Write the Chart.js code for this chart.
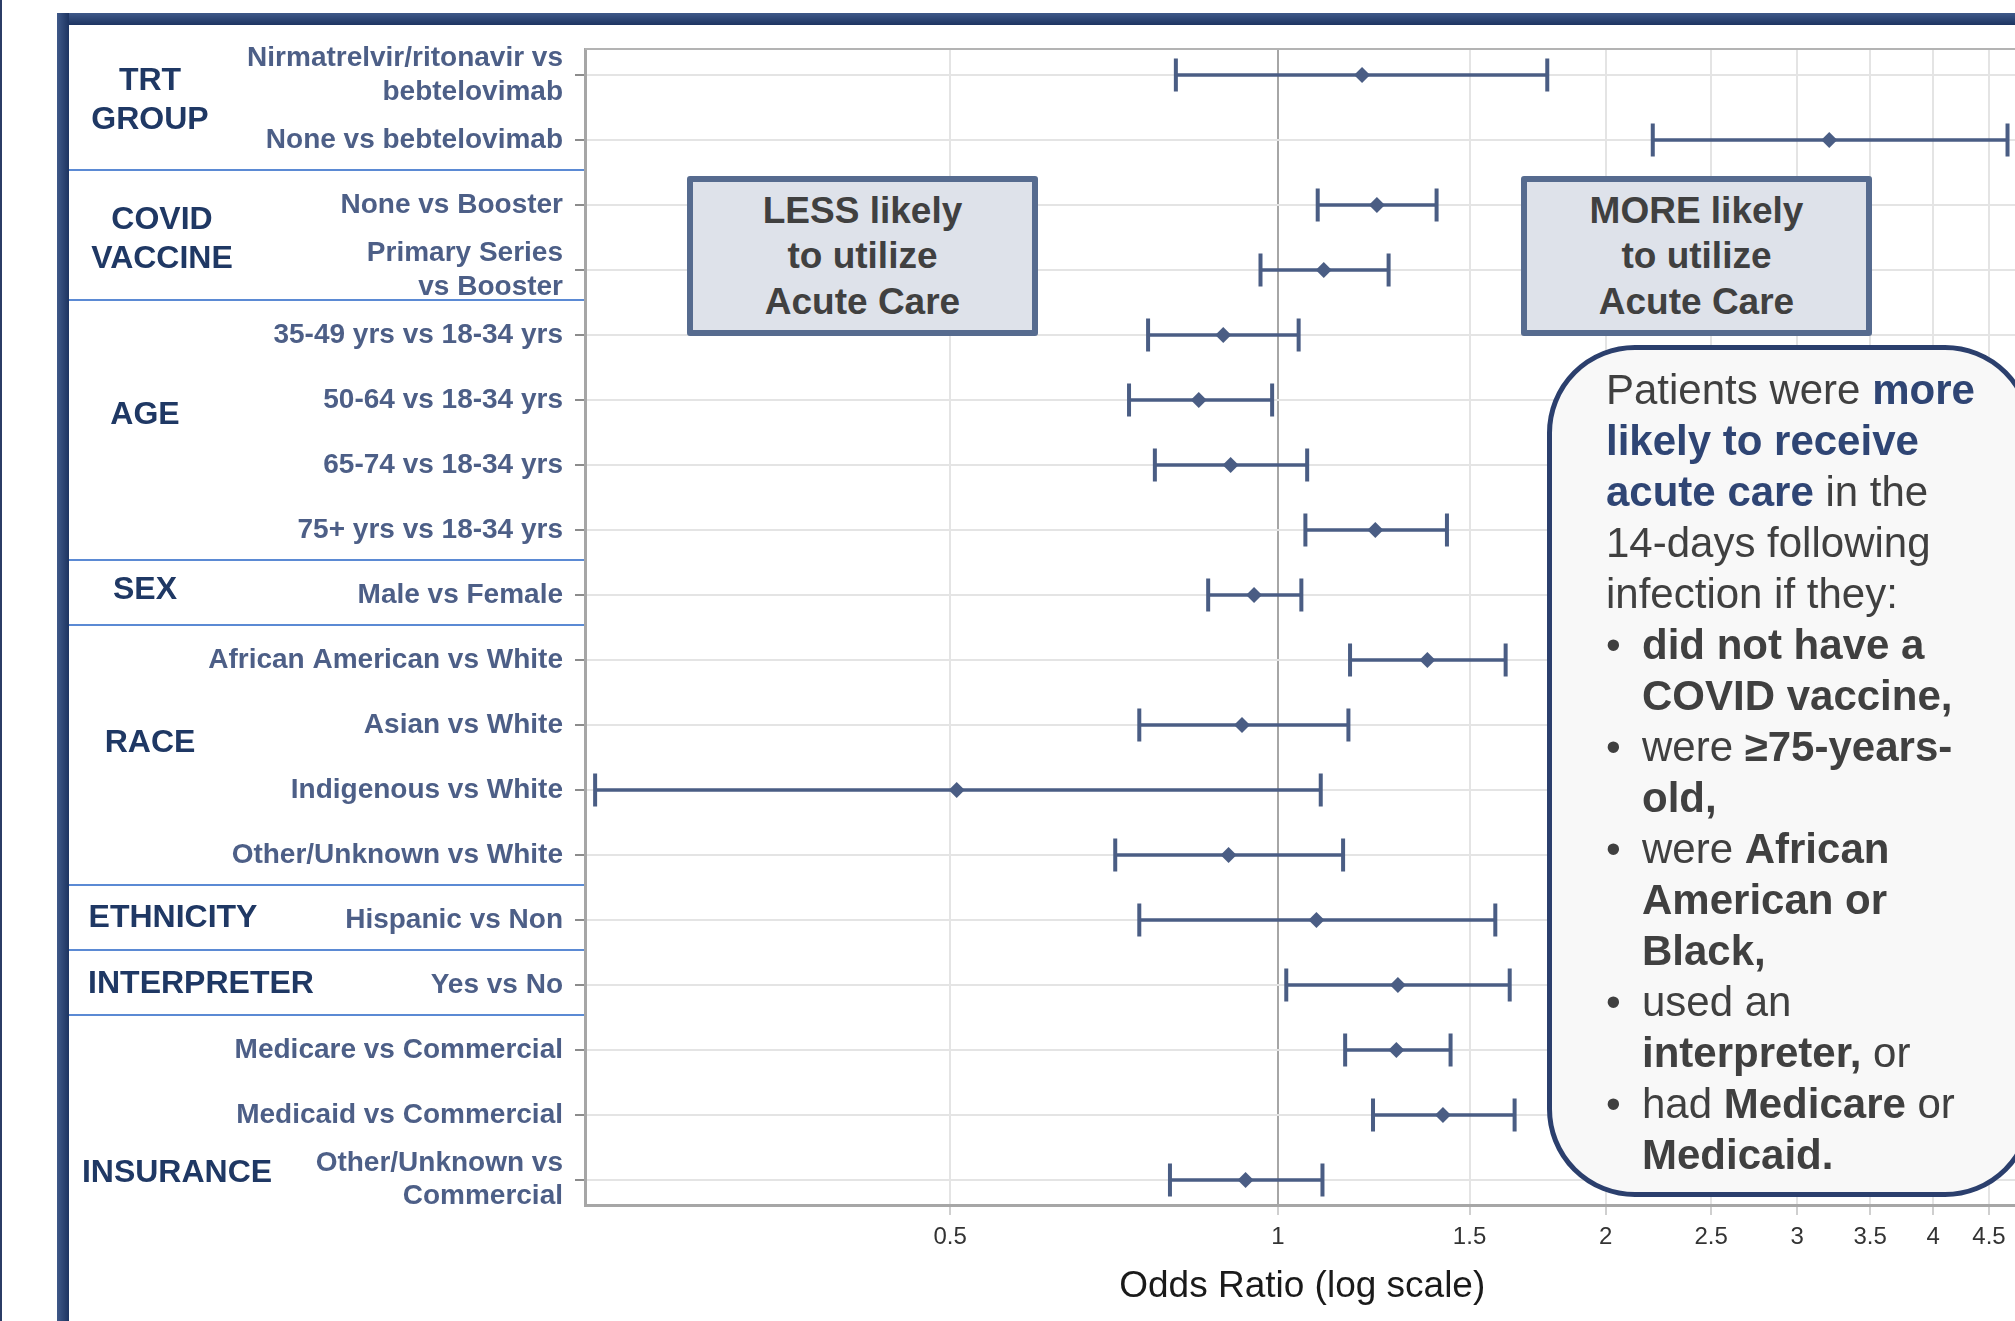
<!DOCTYPE html>
<html>
<head>
<meta charset="utf-8">
<script src="https://cdn.jsdelivr.net/npm/chart.js@4.4.1/dist/chart.umd.min.js"></script>
<style>
  body { margin: 0; width: 2015px; height: 1321px; overflow: hidden; background: #fff; position: relative; font-family: "Liberation Sans", Arial, sans-serif; }
  #chart { position: absolute; left: 0; top: 0; }
  #edge { position: absolute; left: 0; top: 0; width: 2px; height: 1321px; background: #2b3c66; }
  #frameTop { position: absolute; left: 57px; top: 13px; width: 1958px; height: 12px; background: linear-gradient(#3f5989, #1d3461); }
  #frameLeft { position: absolute; left: 57px; top: 13px; width: 12px; height: 1308px; background: linear-gradient(90deg, #3f5989, #1d3461); }
  .box { position: absolute; top: 176px; width: 351px; height: 160px; box-sizing: border-box; border: 6px solid #566b8f; border-radius: 3px; background: #dee2ea; display: flex; align-items: center; justify-content: center; text-align: center; font: bold 37px/45.5px "Liberation Sans", Arial, sans-serif; color: #404040; }
  #less { left: 687px; }
  #more { left: 1521px; }
  #callout { position: absolute; left: 1547px; top: 345px; width: 486px; height: 852px; box-sizing: border-box; border: 5px solid #2b3f6d; border-radius: 88px; background: #f8f8f8; padding: 14px 0 0 54px; font: 42px/51px "Liberation Sans", Arial, sans-serif; color: #404040; white-space: nowrap; }
  #callout .hl { color: #2f4574; }
  #callout .bl { position: relative; padding-left: 36px; }
  #callout .dot { position: absolute; left: 0; top: 0; }
</style>
</head>
<body>
<canvas id="chart" width="2040" height="1321"></canvas>
<div id="edge"></div>
<div id="frameTop"></div>
<div id="frameLeft"></div>
<div class="box" id="less">LESS likely<br>to utilize<br>Acute Care</div>
<div class="box" id="more">MORE likely<br>to utilize<br>Acute Care</div>
<div id="callout">
  Patients were <b class="hl">more</b><br>
  <b class="hl">likely to receive</b><br>
  <b class="hl">acute care</b> in the<br>
  14-days following<br>
  infection if they:
  <div class="bl"><span class="dot">•</span><b>did not have a<br>COVID vaccine,</b></div>
  <div class="bl"><span class="dot">•</span>were <b>≥75-years-<br>old,</b></div>
  <div class="bl"><span class="dot">•</span>were <b>African<br>American or<br>Black,</b></div>
  <div class="bl"><span class="dot">•</span>used an<br><b>interpreter,</b> or</div>
  <div class="bl"><span class="dot">•</span>had <b>Medicare</b> or<br><b>Medicaid.</b></div>
</div>
<script>
const rowLabels = [
  ["Nirmatrelvir/ritonavir vs", "bebtelovimab"],
  "None vs bebtelovimab",
  "None vs Booster",
  ["Primary Series", "vs Booster"],
  "35-49 yrs vs 18-34 yrs",
  "50-64 vs 18-34 yrs",
  "65-74 vs 18-34 yrs",
  "75+ yrs vs 18-34 yrs",
  "Male vs Female",
  "African American vs White",
  "Asian vs White",
  "Indigenous vs White",
  "Other/Unknown vs White",
  "Hispanic vs Non",
  "Yes vs No",
  "Medicare vs Commercial",
  "Medicaid vs Commercial",
  ["Other/Unknown vs", "Commercial"],
];
const oddsRatio = [1.195, 3.21, 1.233, 1.102, 0.891, 0.846, 0.905, 1.229, 0.951, 1.372, 0.927, 0.507, 0.901, 1.085, 1.289, 1.285, 1.418, 0.934];
const ciLow = [0.806, 2.21, 1.088, 0.964, 0.76, 0.73, 0.771, 1.06, 0.863, 1.165, 0.746, 0.236, 0.709, 0.746, 1.018, 1.153, 1.223, 0.796];
const ciHigh = [1.768, 4.68, 1.399, 1.264, 1.045, 0.988, 1.064, 1.43, 1.051, 1.619, 1.161, 1.095, 1.148, 1.584, 1.633, 1.441, 1.65, 1.099];
const xTicks = [0.5, 1, 1.5, 2, 2.5, 3, 3.5, 4, 4.5];
const groupNames = [["TRT", "GROUP"], ["COVID", "VACCINE"], ["AGE"], ["SEX"], ["RACE"], ["ETHNICITY"], ["INTERPRETER"], ["INSURANCE"]];
const groupLastRow = [1, 3, 7, 8, 12, 13, 14, 17];

// where the group names sit in the left panel (x in px, y in row units)
const groupLabelX = [150, 162, 145, 145, 150, 173, 201, 177];
const groupLabelRow = [0.39, 2.54, 5.23, 7.92, 10.28, 12.97, 13.98, 16.89];

const barColor = "#4a5d84";
const panelLeft = 69;

const ciSets = rowLabels.map((_, i) => ({
  data: [{ x: ciLow[i], y: i }, { x: ciHigh[i], y: i }],
  showLine: true,
  borderColor: barColor,
  borderWidth: 3.5,
  pointStyle: "line",
  rotation: 90,
  pointRadius: 16.5,
  pointBorderWidth: 4,
  pointBorderColor: barColor,
  order: 2,
}));

const panel = {
  id: "panel",
  afterDraw(chart) {
    const { ctx, chartArea, scales } = chart;
    const y = scales.y;
    ctx.save();
    ctx.strokeStyle = "#b3b3b3";
    ctx.lineWidth = 2;
    ctx.beginPath();
    ctx.moveTo(chartArea.left, chartArea.top);
    ctx.lineTo(chartArea.right, chartArea.top);
    ctx.stroke();

    ctx.strokeStyle = "#5b8ad4";
    ctx.lineWidth = 2;
    groupLastRow.slice(0, -1).forEach((r) => {
      const py = Math.round(y.getPixelForValue(r + 0.46));
      ctx.beginPath();
      ctx.moveTo(panelLeft, py);
      ctx.lineTo(chartArea.left - 1, py);
      ctx.stroke();
    });

    ctx.fillStyle = "#1f3864";
    ctx.font = 'bold 32px "Liberation Sans", Arial, sans-serif';
    ctx.textAlign = "center";
    ctx.textBaseline = "middle";
    groupNames.forEach((lines, g) => {
      const cy = y.getPixelForValue(groupLabelRow[g]);
      lines.forEach((t, k) => {
        ctx.fillText(t, groupLabelX[g], cy + (k - (lines.length - 1) / 2) * 39);
      });
    });
    ctx.restore();
  },
};

const chart = new Chart(document.getElementById("chart"), {
  type: "scatter",
  data: {
    datasets: [
      {
        data: oddsRatio.map((v, i) => ({ x: v, y: i })),
        pointStyle: "rectRot",
        pointRadius: 8,
        backgroundColor: barColor,
        borderColor: barColor,
        borderWidth: 0,
        order: 1,
      },
      ...ciSets,
    ],
  },
  options: {
    responsive: false,
    animation: false,
    devicePixelRatio: 1,
    layout: { padding: { left: panelLeft, top: 49, right: 19, bottom: 0 } },
    plugins: { legend: { display: false }, tooltip: { enabled: false } },
    scales: {
      x: {
        type: "logarithmic",
        min: 0.231,
        max: 4.8,
        afterBuildTicks: (scale) => {
          scale.ticks = xTicks.map((v) => ({ value: v }));
        },
        afterFit: (scale) => {
          scale.height = 116;
        },
        ticks: {
          autoSkip: false,
          maxRotation: 0,
          padding: 8,
          color: "#333333",
          font: { family: '"Liberation Sans", Arial, sans-serif', size: 24 },
          callback: (v) => String(v),
        },
        grid: {
          color: (c) => (c.tick && c.tick.value === 1 ? "#a6a6a6" : "#e4e4e4"),
          lineWidth: 2,
          tickColor: "#cfcfcf",
          tickLength: 10,
        },
        border: { color: "#a6a6a6", width: 3 },
        title: {
          display: true,
          text: "Odds Ratio (log scale)",
          color: "#1a1a1a",
          font: { family: '"Liberation Sans", Arial, sans-serif', size: 37 },
          padding: { top: 0, bottom: 12 },
        },
      },
      y: {
        type: "linear",
        reverse: true,
        min: -0.4,
        max: 17.385,
        afterBuildTicks: (scale) => {
          scale.ticks = rowLabels.map((_, i) => ({ value: i }));
        },
        afterFit: (scale) => {
          scale.width = 516;
        },
        ticks: {
          autoSkip: false,
          padding: 12,
          color: "#4d5f87",
          font: { family: '"Liberation Sans", Arial, sans-serif', size: 28, weight: "bold" },
          callback: (v) => rowLabels[v],
        },
        grid: {
          color: "#e4e4e4",
          lineWidth: 2,
          tickColor: "#8c8c8c",
          tickLength: 10,
        },
        border: { color: "#a6a6a6", width: 3 },
      },
    },
  },
  plugins: [panel],
});
</script>
</body>
</html>
